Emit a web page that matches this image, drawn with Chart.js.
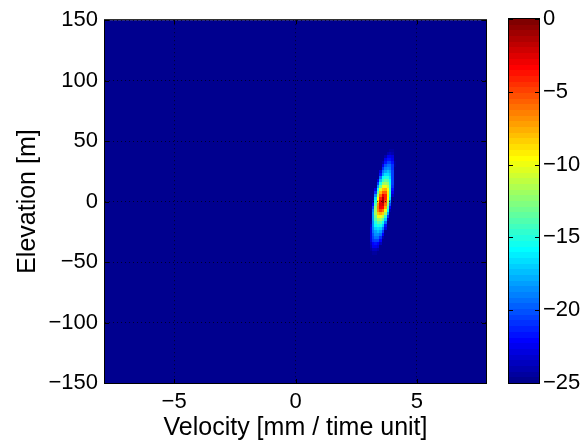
<!DOCTYPE html>
<html>
<head>
<meta charset="utf-8">
<title>Velocity / elevation spectrum</title>
<script src="https://cdn.jsdelivr.net/npm/chart.js@4.4.0/dist/chart.umd.min.js"></script>
<style>
  html, body { margin: 0; padding: 0; background: #fff; }
  #wrap { position: relative; width: 586px; height: 445px; }
  #wrap canvas { position: absolute; left: 0; top: 0; }
</style>
</head>
<body>
<div id="wrap">
  <canvas id="map" width="586" height="445"></canvas>
  <canvas id="bar" width="586" height="445"></canvas>
</div>
<script>
// grid of the power map (dB); everything outside is at the floor
const velocities = [3.1, 3.2, 3.3, 3.4, 3.5, 3.6, 3.7, 3.8, 3.9, 4.0, 4.1];
const elevations = [42.5, 40, 37.5, 35, 32.5, 30, 27.5, 25, 22.5, 20, 17.5, 15, 12.5, 10, 7.5, 5, 2.5, 0,
  -2.5, -5, -7.5, -10, -12.5, -15, -17.5, -20, -22.5, -25, -27.5, -30, -32.5, -35, -37.5, -40, -42.5];
const powerDb = [
  [-25, -25, -25, -25, -25, -25, -25, -25, -24.5, -24.5, -25],
  [-25, -25, -25, -25, -25, -25, -25, -24, -23.5, -24, -25],
  [-25, -25, -25, -25, -25, -25, -24, -22.5, -22.5, -23, -25],
  [-25, -25, -25, -25, -25, -25, -22.5, -21.5, -21.5, -22.5, -25],
  [-25, -25, -25, -25, -25, -24, -21.5, -20.5, -20.5, -21.5, -24.5],
  [-25, -25, -25, -25, -25, -22.5, -20, -19.5, -19.5, -21, -24.5],
  [-25, -25, -25, -25, -25, -21, -19, -18.5, -19, -21, -25],
  [-25, -25, -25, -25, -23, -19.5, -18, -17.5, -18, -20.5, -25],
  [-25, -25, -25, -25, -21.5, -18, -16.5, -16.5, -17.5, -20.5, -25],
  [-25, -25, -25, -25, -19.5, -16, -15, -15, -16.5, -20.5, -25],
  [-25, -25, -25, -23, -17.5, -14.5, -13.5, -14, -16, -20.5, -25],
  [-25, -25, -25, -20.5, -15.5, -12.5, -12, -12.5, -15.5, -20.5, -25],
  [-25, -25, -25, -18, -13, -10, -10, -11, -14.5, -21, -25],
  [-25, -25, -23, -15.5, -10.5, -8, -7.5, -9.5, -14.5, -21.5, -25],
  [-25, -25, -21, -13.5, -8, -5.5, -5.5, -9, -14.5, -22.5, -25],
  [-25, -25, -18.5, -11.5, -6, -3, -4, -9, -15.5, -23.5, -25],
  [-25, -25, -16.5, -9.5, -4, -1.5, -4, -9.5, -16.5, -25, -25],
  [-25, -23.5, -15, -8.5, -3, -0.5, -5, -11, -18.5, -25, -25],
  [-25, -22, -14, -7, -2.5, -2, -6, -12.5, -20, -25, -25],
  [-25, -20.5, -12.5, -6.5, -3, -3.5, -7.5, -14, -22, -25, -25],
  [-25, -19, -12, -7, -5, -6, -10, -16, -24, -25, -25],
  [-25, -18, -12, -8.5, -7.5, -8.5, -12, -18, -25, -25, -25],
  [-25, -18, -13, -10, -10, -11, -14.5, -21, -25, -25, -25],
  [-25, -18, -14, -12, -12, -13.5, -17, -23.5, -25, -25, -25],
  [-24.5, -18.5, -15, -13.5, -14, -15.5, -19.5, -25, -25, -25, -25],
  [-23.5, -18.5, -16, -15, -15.5, -17, -21.5, -25, -25, -25, -25],
  [-23, -19, -17, -16.5, -17, -19, -23, -25, -25, -25, -25],
  [-23, -19.5, -18, -17.5, -18, -20.5, -25, -25, -25, -25, -25],
  [-23, -20, -18.5, -18.5, -19.5, -22, -25, -25, -25, -25, -25],
  [-23, -20.5, -19.5, -19.5, -21, -24, -25, -25, -25, -25, -25],
  [-23, -21, -20.5, -20.5, -22, -25, -25, -25, -25, -25, -25],
  [-23.5, -22, -21.5, -22, -23.5, -25, -25, -25, -25, -25, -25],
  [-24, -22.5, -22.5, -23, -25, -25, -25, -25, -25, -25, -25],
  [-24.5, -23.5, -23.5, -24, -25, -25, -25, -25, -25, -25, -25],
  [-25, -24.5, -24.5, -25, -25, -25, -25, -25, -25, -25, -25]
];
const cellWidth = 0.1;    // velocity step of the grid
const cellHeight = 2.5;   // elevation step of the grid

const velocityRange = [-7.85, 7.85];
const elevationRange = [-150, 150];
const dbRange = [-25, 0];

const velocityTicks = [-5, 0, 5];
const elevationTicks = [-150, -100, -50, 0, 50, 100, 150];
const dbTicks = [-25, -20, -15, -10, -5, 0];

const FONT = "'Liberation Sans', Arial, Helvetica, sans-serif";
const NCOLORS = 64;

// matlab jet(64)
function jet(db) {
  let t = (db - dbRange[0]) / (dbRange[1] - dbRange[0]);
  let idx = Math.floor(t * NCOLORS);
  idx = Math.max(0, Math.min(NCOLORS - 1, idx));
  const tt = (idx + 1) / NCOLORS;
  const c = v => Math.round(255 * Math.max(0, Math.min(1, v)));
  return `rgb(${c(1.5 - Math.abs(4 * tt - 3))},${c(1.5 - Math.abs(4 * tt - 2))},${c(1.5 - Math.abs(4 * tt - 1))})`;
}

const minus = v => String(v).replace('-', '\u2212');

const cells = [];
elevations.forEach((e, r) => {
  velocities.forEach((v, c) => cells.push({ x: v, y: e, v: powerDb[r][c] }));
});

// paints the cells under the grid lines
const heatmap = {
  id: 'heatmap',
  beforeDraw(chart) {
    const { ctx, chartArea: a, scales: { x, y } } = chart;
    ctx.save();
    ctx.fillStyle = jet(dbRange[0]);
    ctx.fillRect(a.left, a.top, a.right - a.left, a.bottom - a.top);
    chart.data.datasets[0].data.forEach(p => {
      const x0 = Math.round(x.getPixelForValue(p.x - cellWidth / 2));
      const x1 = Math.round(x.getPixelForValue(p.x + cellWidth / 2));
      const y0 = Math.round(y.getPixelForValue(p.y + cellHeight / 2));
      const y1 = Math.round(y.getPixelForValue(p.y - cellHeight / 2));
      ctx.fillStyle = jet(p.v);
      ctx.fillRect(x0, y0, x1 - x0, y1 - y0);
    });
    ctx.restore();
  }
};

// black box with inward ticks, matlab style
const frame = {
  id: 'frame',
  afterDraw(chart) {
    const { ctx, chartArea: a, scales } = chart;
    const len = 4;
    ctx.save();
    ctx.strokeStyle = '#000';
    ctx.lineWidth = 1;
    ctx.beginPath();
    Object.values(scales).forEach(s => {
      if (!s.options.display) return;
      s.ticks.forEach(t => {
        const p = Math.round(s.getPixelForValue(t.value)) + 0.5;
        if (s.isHorizontal()) {
          ctx.moveTo(p, a.top); ctx.lineTo(p, a.top + len);
          ctx.moveTo(p, a.bottom); ctx.lineTo(p, a.bottom - len);
        } else {
          ctx.moveTo(a.left, p); ctx.lineTo(a.left + len, p);
          ctx.moveTo(a.right, p); ctx.lineTo(a.right - len, p);
        }
      });
    });
    ctx.stroke();
    ctx.strokeRect(a.left - 0.5, a.top - 0.5, a.right - a.left + 1, a.bottom - a.top + 1);
    ctx.restore();
  }
};

// colour bands of the colorbar, placed with its y scale
const colorbar = {
  id: 'colorbar',
  beforeDraw(chart) {
    const { ctx, chartArea: a, scales: { y } } = chart;
    const step = (dbRange[1] - dbRange[0]) / NCOLORS;
    ctx.save();
    for (let i = 0; i < NCOLORS; i++) {
      const lo = dbRange[0] + i * step;
      const y0 = Math.round(y.getPixelForValue(lo + step));
      const y1 = Math.round(y.getPixelForValue(lo));
      ctx.fillStyle = jet(lo + step / 2);
      ctx.fillRect(a.left, y0, a.right - a.left, y1 - y0);
    }
    ctx.restore();
  }
};

const tickFont = { family: FONT, size: 22 };
const titleFont = { family: FONT, size: 25 };

new Chart(document.getElementById('map'), {
  type: 'scatter',
  data: { datasets: [{ data: cells, pointRadius: 0, pointHoverRadius: 0 }] },
  options: {
    responsive: false,
    animation: false,
    devicePixelRatio: 1,
    events: [],
    layout: { padding: { top: 19, right: 100, left: 0, bottom: 0 } },
    plugins: { legend: { display: false }, tooltip: { enabled: false } },
    scales: {
      x: {
        type: 'linear',
        min: velocityRange[0],
        max: velocityRange[1],
        afterBuildTicks: s => { s.ticks = velocityTicks.map(v => ({ value: v })); },
        afterFit: s => { s.height = 62; },
        ticks: { font: tickFont, color: '#000', padding: 6, maxRotation: 0, callback: minus },
        grid: { color: 'rgba(0,0,0,0.7)', drawTicks: false, lineWidth: 1 },
        border: { display: false, dash: [1, 3] },
        title: { display: true, text: 'Velocity [mm / time unit]', font: titleFont, color: '#000', padding: { top: 0, bottom: 2 } }
      },
      y: {
        type: 'linear',
        min: elevationRange[0],
        max: elevationRange[1],
        afterBuildTicks: s => { s.ticks = elevationTicks.map(v => ({ value: v })); },
        afterFit: s => { s.width = 105; },
        ticks: { font: tickFont, color: '#000', padding: 7, callback: minus },
        grid: { color: 'rgba(0,0,0,0.7)', drawTicks: false, lineWidth: 1 },
        border: { display: false, dash: [1, 3] },
        title: { display: true, text: 'Elevation [m]', font: titleFont, color: '#000', padding: { top: 13, bottom: 0 } }
      }
    }
  },
  plugins: [heatmap, frame]
});

new Chart(document.getElementById('bar'), {
  type: 'scatter',
  data: { datasets: [{ data: [] }] },
  options: {
    responsive: false,
    animation: false,
    devicePixelRatio: 1,
    events: [],
    layout: { padding: { top: 19, right: 0, left: 509, bottom: 62 } },
    plugins: { legend: { display: false }, tooltip: { enabled: false } },
    scales: {
      x: { display: false, min: 0, max: 1 },
      y: {
        type: 'linear',
        position: 'right',
        min: dbRange[0],
        max: dbRange[1],
        afterBuildTicks: s => { s.ticks = dbTicks.map(v => ({ value: v })); },
        afterFit: s => { s.width = 47; },
        ticks: { font: tickFont, color: '#000', padding: 4, callback: minus },
        grid: { display: false, drawTicks: false },
        border: { display: false }
      }
    }
  },
  plugins: [colorbar, frame]
});
</script>
</body>
</html>
